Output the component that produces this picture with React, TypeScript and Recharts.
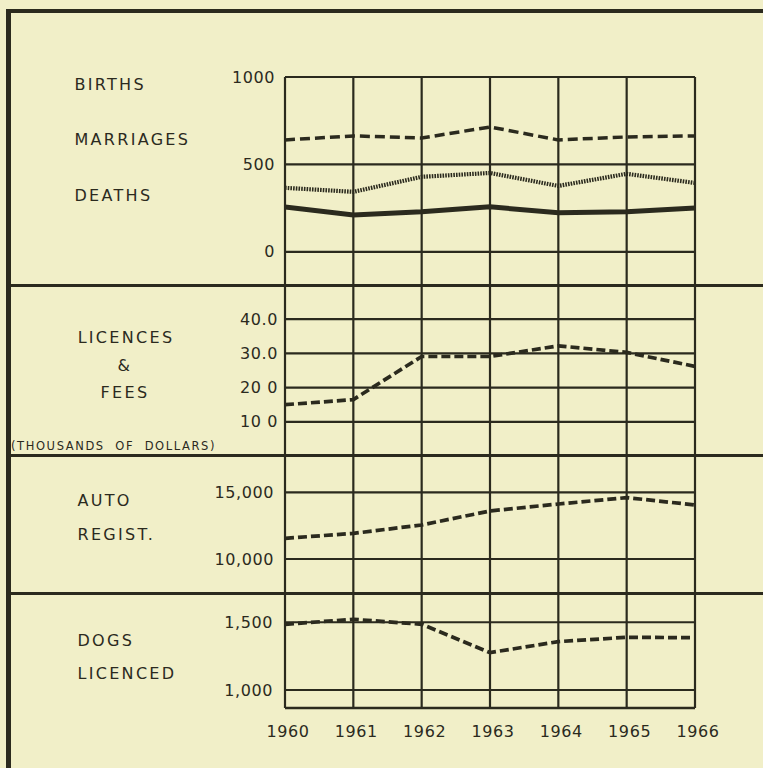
import React from "react";
import { LineChart, Line, XAxis, YAxis, CartesianGrid, ReferenceLine } from "recharts";

// ---------- data ----------
const years = [1960, 1961, 1962, 1963, 1964, 1965, 1966];
const yearLabels = ["1960", "1961", "1962", "1963", "1964", "1965", "1966"];

const births = [640, 663, 651, 714, 640, 657, 663];
const marriages = [366, 343, 429, 451, 377, 446, 394];
const deaths = [257, 211, 229, 257, 223, 229, 251];
const vitalTicks = [0, 500, 1000];
const vitalTickLabels = ["0", "500", "1000"];

const licences = [15.0, 16.5, 29.1, 29.1, 32.2, 30.3, 26.2];
const licTicks = [10, 20, 30, 40];
const licTickLabels = ["10 0", "20 0", "30.0", "40.0"];

const autos = [11550, 11920, 12550, 13600, 14120, 14600, 14050];
const autoTicks = [10000, 15000];
const autoTickLabels = ["10,000", "15,000"];

const dogs = [1485, 1522, 1485, 1276, 1357, 1389, 1386];
const dogTicks = [1000, 1500];
const dogTickLabels = ["1,000", "1,500"];

// axis ranges
const vitalDomain = [-190, 1000];
const licDomain = [0, 50];
const autoDomain = [7450, 17720];
const dogDomain = [867, 1716];

// ---------- styles ----------
const INK = "#2b2a1e";
const BG = "#f1efc8";
const FONT = "'DejaVu Sans', sans-serif";
const W = 763;

const vitalData = years.map((y, i) => ({ year: y, births: births[i], marriages: marriages[i], deaths: deaths[i] }));
const licData = years.map((y, i) => ({ year: y, v: licences[i] }));
const autoData = years.map((y, i) => ({ year: y, v: autos[i] }));
const dogData = years.map((y, i) => ({ year: y, v: dogs[i] }));

const fmt = (ticks: number[], labels: string[]) => (v: number) => {
  const i = ticks.indexOf(v);
  return i >= 0 ? labels[i] : "";
};

const tickStyle = { fill: INK, fontSize: 16, fontFamily: FONT, letterSpacing: 0.6 };

const grid = <CartesianGrid stroke={INK} strokeWidth={2.2} fill="none" />;

function xAxisHidden() {
  return (
    <XAxis
      dataKey="year"
      type="number"
      domain={[1960, 1966]}
      ticks={years}
      interval={0}
      allowDataOverflow
      height={0}
      axisLine={false}
      tickLine={false}
      tick={{ fill: "none", fontSize: 1 }}
      tickFormatter={() => ""}
    />
  );
}

function yAxis(domain: number[], ticks: number[], labels: string[], tickSize = 10) {
  return (
    <YAxis
      type="number"
      domain={domain}
      ticks={ticks}
      interval={0}
      allowDataOverflow
      width={60}
      axisLine={false}
      tickLine={false}
      tickSize={tickSize}
      tickMargin={0}
      tick={tickStyle}
      tickFormatter={fmt(ticks, labels)}
    />
  );
}

const Label = ({ x, y, children, size = 16, ls = 2.3, w, center }: any) => (
  <div
    style={{
      position: "absolute",
      left: x,
      top: y,
      width: w,
      textAlign: center ? "center" : "left",
      fontFamily: FONT,
      fontSize: size,
      lineHeight: size === 16 ? "18px" : "13px",
      letterSpacing: ls,
      color: INK,
      whiteSpace: "pre",
    }}
  >
    {children}
  </div>
);

const Rule = ({ left, top, width, height }: any) => (
  <div style={{ position: "absolute", left, top, width, height, background: INK }} />
);

const dashed = { stroke: INK, strokeWidth: 3.7, strokeDasharray: "9 4", fill: "none" };

export default function App() {
  return (
    <div style={{ position: "fixed", left: 0, top: 0, width: W, height: 768, background: BG, overflow: "hidden" }}>
      {/* Panel 1 */}
      <div style={{ position: "absolute", left: 0, top: 60 }}>
        <LineChart width={W} height={225} data={vitalData} margin={{ top: 17, right: 68, bottom: 0, left: 225 }}>
          {grid}
          {xAxisHidden()}
          {yAxis(vitalDomain, vitalTicks, vitalTickLabels)}
          <Line dataKey="births" type="linear" dot={false} isAnimationActive={false} {...dashed} strokeDasharray="10 5" strokeWidth={3.5} />
          <Line dataKey="marriages" type="linear" dot={false} isAnimationActive={false} stroke={INK} strokeWidth={4.2} strokeDasharray="1.6 1.1" />
          <Line dataKey="deaths" type="linear" dot={false} isAnimationActive={false} stroke={INK} strokeWidth={5} />
        </LineChart>
      </div>

      {/* Panel 2 */}
      <div style={{ position: "absolute", left: 0, top: 270 }}>
        <LineChart width={W} height={186} data={licData} margin={{ top: 15, right: 68, bottom: 0, left: 225 }}>
          {grid}
          {xAxisHidden()}
          {yAxis(licDomain, licTicks, licTickLabels, 7)}
          <Line dataKey="v" type="linear" dot={false} isAnimationActive={false} {...dashed} />
        </LineChart>
      </div>

      {/* Panel 3 */}
      <div style={{ position: "absolute", left: 0, top: 440 }}>
        <LineChart width={W} height={153} data={autoData} margin={{ top: 16, right: 68, bottom: 0, left: 225 }}>
          {grid}
          {xAxisHidden()}
          {yAxis(autoDomain, autoTicks, autoTickLabels, 11)}
          <Line dataKey="v" type="linear" dot={false} isAnimationActive={false} {...dashed} />
        </LineChart>
      </div>

      {/* Panel 4 */}
      <div style={{ position: "absolute", left: 0, top: 578 }}>
        <LineChart width={W} height={190} data={dogData} margin={{ top: 15, right: 68, bottom: 0, left: 225 }}>
          {grid}
          <XAxis
            dataKey="year"
            type="number"
            domain={[1960, 1966]}
            ticks={years}
            interval={0}
            allowDataOverflow
            height={60}
            axisLine={false}
            tickLine={false}
            tickSize={10}
            tickMargin={8}
            tick={{ ...tickStyle, dx: 3 }}
            tickFormatter={fmt(years, yearLabels)}
          />
          {yAxis(dogDomain, dogTicks, dogTickLabels, 12)}
          <ReferenceLine y={dogDomain[0]} stroke={INK} strokeWidth={2.6} />
          <Line dataKey="v" type="linear" dot={false} isAnimationActive={false} {...dashed} />
        </LineChart>
      </div>

      {/* frame and separators */}
      <Rule left={6} top={9} width={W - 6} height={4} />
      <Rule left={6} top={9} width={5} height={768} />
      <Rule left={11} top={284} width={W - 11} height={3} />
      <Rule left={11} top={454} width={W - 11} height={3} />
      <Rule left={11} top={592} width={W - 11} height={3} />

      {/* left labels */}
      <Label x={74.5} y={76}>BIRTHS</Label>
      <Label x={74.5} y={131}>MARRIAGES</Label>
      <Label x={74.5} y={187}>DEATHS</Label>
      <Label x={65} y={329} w={122} center>LICENCES</Label>
      <Label x={65} y={357} w={120} center>&amp;</Label>
      <Label x={65} y={384} w={120} center>FEES</Label>
      <Label x={11} y={440} size={11.5} ls={1.6}>(THOUSANDS  OF  DOLLARS)</Label>
      <Label x={77.5} y={492}>AUTO</Label>
      <Label x={77.5} y={526}>REGIST.</Label>
      <Label x={77.5} y={632}>DOGS</Label>
      <Label x={77.5} y={665}>LICENCED</Label>
    </div>
  );
}
